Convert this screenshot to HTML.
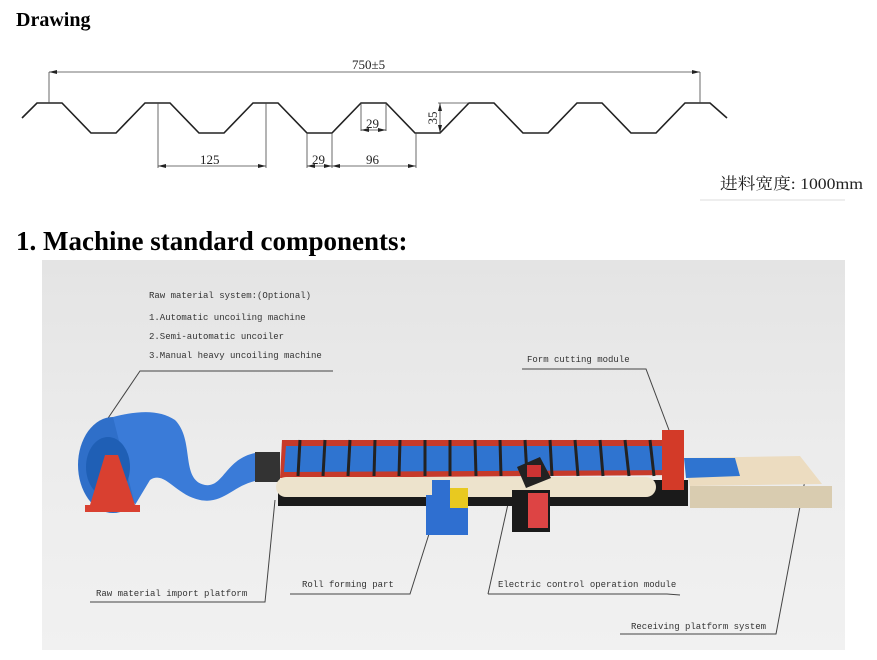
<!DOCTYPE html>
<html><head><meta charset="utf-8"><style>
html,body{margin:0;padding:0;background:#fff;width:877px;height:660px;overflow:hidden}
svg{display:block}
</style></head><body>
<svg width="877" height="660" viewBox="0 0 877 660" xmlns="http://www.w3.org/2000/svg">
<defs>
<linearGradient id="bg" x1="0" y1="0" x2="0" y2="1"><stop offset="0" stop-color="#e4e4e4"/><stop offset="0.5" stop-color="#ececec"/><stop offset="1" stop-color="#f1f1f1"/></linearGradient>
<marker id="a" markerWidth="8" markerHeight="6" refX="8" refY="3" orient="auto-start-reverse" markerUnits="userSpaceOnUse"><path d="M0,1 L8,3 L0,5z" fill="#222"/></marker>
</defs>
<text x="16" y="26" font-family="Liberation Serif" font-weight="bold" font-size="20">Drawing</text>
<g fill="none" stroke="#222" stroke-width="1.6">
<polyline points="22,118 37,103 62,103 91,133 116,133 145,103 170,103 199,133 224,133 253,103 278,103 307,133 332,133 361,103 386,103 415,133 440,133 469,103 494,103 523,133 548,133 577,103 602,103 631,133 656,133 685,103 710,103 727,118"/>
</g>
<g stroke="#444" stroke-width="0.8" fill="none">
<line x1="49" y1="72" x2="700" y2="72" marker-start="url(#a)" marker-end="url(#a)"/>
<line x1="49" y1="72" x2="49" y2="103"/>
<line x1="700" y1="72" x2="700" y2="103"/>
<line x1="158" y1="103" x2="158" y2="168"/><line x1="266" y1="103" x2="266" y2="168"/>
<line x1="158" y1="166" x2="266" y2="166" marker-start="url(#a)" marker-end="url(#a)"/>
<line x1="307" y1="133" x2="307" y2="168"/><line x1="332" y1="133" x2="332" y2="168"/><line x1="416" y1="133" x2="416" y2="168"/>
<line x1="307" y1="166" x2="332" y2="166" marker-start="url(#a)" marker-end="url(#a)"/>
<line x1="332" y1="166" x2="416" y2="166" marker-start="url(#a)" marker-end="url(#a)"/>
<line x1="361" y1="103" x2="361" y2="131"/><line x1="386" y1="103" x2="386" y2="131"/>
<line x1="361" y1="130" x2="386" y2="130" marker-start="url(#a)" marker-end="url(#a)"/>
<line x1="440" y1="103" x2="440" y2="133" marker-start="url(#a)" marker-end="url(#a)"/><line x1="438" y1="103" x2="469" y2="103"/>
</g>
<g font-family="Liberation Serif" font-size="13" fill="#222">
<text x="352" y="69">750±5</text>
<text x="200" y="164">125</text>
<text x="312" y="164">29</text>
<text x="366" y="164">96</text>
<text x="366" y="128">29</text>
<text x="433" y="122" text-anchor="middle" transform="rotate(-90 433 118)">35</text>
</g>
<text x="720" y="189" textLength="143" lengthAdjust="spacingAndGlyphs" font-family="Liberation Serif, 'Noto Serif CJK SC', serif" font-size="16" fill="#222">进料宽度: 1000mm</text>
<line x1="700" y1="200" x2="845" y2="200" stroke="#ddd"/>
<text x="16" y="250" font-family="Liberation Serif" font-weight="bold" font-size="27">1. Machine standard components:</text>
<rect x="42" y="260" width="803" height="390" fill="url(#bg)"/>
<g font-family="Liberation Mono, monospace" font-size="9" fill="#333">
<text x="149" y="298">Raw material system:(Optional)</text>
<text x="149" y="320">1.Automatic uncoiling machine</text>
<text x="149" y="339">2.Semi-automatic uncoiler</text>
<text x="149" y="358">3.Manual heavy uncoiling machine</text>
<text x="527" y="362">Form cutting module</text>
<text x="96" y="596">Raw material import platform</text>
<text x="302" y="587">Roll forming part</text>
<text x="498" y="587">Electric control operation module</text>
<text x="631" y="629">Receiving platform system</text>
</g>
<g stroke="#444" stroke-width="1" fill="none">
<polyline points="333,371 140,371 100,430"/>
<polyline points="522,369 646,369 672,438"/>
<polyline points="90,602 265,602 275,500"/>
<polyline points="290,594 410,594 435,515"/>
<polyline points="488,594 667,594 680,595"/>
<polyline points="488,594 510,495"/>
<polyline points="620,634 776,634 805,480"/>
</g>
<ellipse cx="113" cy="465" rx="35" ry="48" fill="#2f6fc9"/>
<path d="M113,417 C140,410 160,410 175,420 C195,440 180,480 205,485 C225,488 225,455 262,452 L262,480 C235,482 225,505 200,500 C175,495 165,470 150,480 L135,505 Z" fill="#3a7bd8"/>
<ellipse cx="108" cy="467" rx="22" ry="30" fill="#1f5fb5"/>
<path d="M90,505 L105,455 L118,455 L135,505 Z M85,505 L140,505 L140,512 L85,512Z" fill="#d94030"/>
<rect x="255" y="452" width="25" height="30" fill="#333"/>
<polygon points="282,440 665,440 680,475 280,478" fill="#c63a2a"/>
<polygon points="286,446 665,446 675,470 284,472" fill="#2f74d0"/>
<g stroke="#222" stroke-width="3">
<line x1="300" y1="440" x2="298" y2="476"/><line x1="325" y1="440" x2="323" y2="476"/><line x1="350" y1="440" x2="348" y2="476"/><line x1="375" y1="440" x2="374" y2="476"/><line x1="400" y1="440" x2="399" y2="476"/><line x1="425" y1="440" x2="425" y2="476"/><line x1="450" y1="440" x2="450" y2="476"/><line x1="475" y1="440" x2="476" y2="476"/><line x1="500" y1="440" x2="501" y2="476"/><line x1="525" y1="440" x2="527" y2="476"/><line x1="550" y1="440" x2="552" y2="476"/><line x1="575" y1="440" x2="578" y2="476"/><line x1="600" y1="440" x2="603" y2="476"/><line x1="625" y1="440" x2="629" y2="476"/><line x1="650" y1="440" x2="654" y2="476"/>
</g>
<rect x="278" y="480" width="410" height="26" fill="#1a1a1a"/>
<rect x="276" y="477" width="380" height="20" rx="10" fill="#ede3cc"/>
<rect x="662" y="430" width="22" height="60" fill="#d33a28"/>
<polygon points="684,458 800,456 822,484 690,486" fill="#ecdcc0"/>
<polygon points="684,458 735,458 740,476 686,478" fill="#2f74d0"/>
<rect x="690" y="486" width="142" height="22" fill="#d9ccb0"/>
<rect x="426" y="495" width="42" height="40" fill="#2f6fd0"/>
<rect x="432" y="480" width="18" height="22" fill="#2f6fd0"/>
<rect x="450" y="488" width="18" height="20" fill="#e8c920"/>
<rect x="512" y="490" width="38" height="42" fill="#1a1a1a"/>
<rect x="528" y="493" width="20" height="35" fill="#d44"/>
<polygon points="517,467 540,457 551,478 526,488" fill="#222"/>
<rect x="527" y="465" width="14" height="12" fill="#c33"/>
</svg>
</body></html>
